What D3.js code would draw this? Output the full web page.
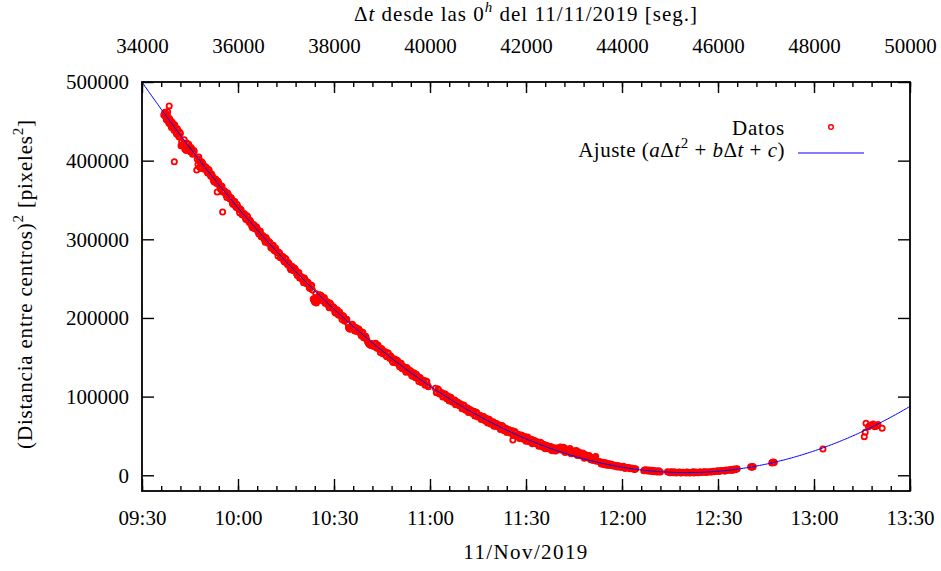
<!DOCTYPE html>
<html><head><meta charset="utf-8">
<script src="https://cdn.jsdelivr.net/npm/d3@7"></script>
<style>
body{margin:0;background:#fff}
text{font-family:"Liberation Serif","Times New Roman",serif;fill:#000}
</style>
</head><body>
<svg id="c" width="941" height="571"></svg>
<script>
// ---- data: time in minutes after 09:30 (11/Nov/2019) and squared distance [pixeles^2]
const minutos = [
  // 09:36 - 09:46
  6.8,7.2,7.6,8.0,8.4,8.8,9.2,9.6,10.0,10.4,
  10.8,11.2,11.6,12.0,12.2,12.4,12.6,12.8,13.2,13.4,
  13.6,13.8,14.0,14.4,14.8,15.2,15.6,16.0,16.3,8.0,
  8.5,10.1,
  7.0,7.4,7.8,8.2,8.6,9.0,9.4,9.8,10.2,10.6,
  11.0,11.4,11.8,13.0,14.2,14.6,15.0,15.4,15.8,16.2,
  // 09:47 - 11:00
  17.1,17.5,17.8,18.0,18.3,18.5,19.0,19.5,20.0,20.5,
  21.0,21.5,22.0,22.5,23.0,23.5,24.0,24.5,25.0,25.5,
  26.0,26.5,27.0,27.5,28.0,28.5,29.0,29.5,30.0,30.5,
  31.0,31.5,32.0,32.5,33.0,33.5,34.0,34.5,35.0,35.5,
  36.0,36.5,37.0,37.5,38.0,38.5,39.0,39.5,40.0,40.5,
  41.0,41.5,42.0,42.5,43.0,43.5,44.0,44.5,45.0,45.5,
  46.0,46.5,47.0,47.5,48.0,48.5,49.0,49.5,50.0,50.5,
  51.0,51.5,52.0,52.5,53.0,53.5,54.0,54.3,54.5,55.0,
  55.5,56.0,56.5,57.0,57.5,58.0,58.5,59.0,59.5,60.0,
  60.5,61.0,61.5,62.0,62.5,63.0,63.5,64.0,64.5,65.0,
  65.5,66.0,66.5,67.0,67.5,68.0,68.5,69.0,69.5,70.0,
  70.5,71.0,71.5,72.0,72.5,73.0,73.5,74.0,74.5,75.0,
  75.5,76.0,76.5,77.0,77.5,78.0,78.5,79.0,79.5,80.0,
  80.5,81.0,81.5,82.0,82.5,83.0,83.5,84.0,84.5,85.0,
  85.5,86.0,86.5,87.0,87.5,88.0,88.5,89.0,89.5,23.5,
  25.2,
  17.25,17.75,18.25,18.75,19.25,19.75,20.25,20.75,21.25,21.75,
  22.25,22.75,23.25,23.75,24.25,24.75,25.25,25.75,26.25,26.75,
  27.25,27.75,28.25,28.75,29.25,29.75,30.25,30.75,31.25,31.75,
  32.25,32.75,33.25,33.75,34.25,34.75,35.25,35.75,36.25,36.75,
  37.25,37.75,38.25,38.75,39.25,39.75,40.25,40.75,41.25,41.75,
  42.25,42.75,43.25,43.75,44.25,44.75,45.25,45.75,46.25,46.75,
  47.25,47.75,48.25,48.75,49.25,49.75,50.25,50.75,51.25,51.75,
  52.25,52.75,53.25,53.75,54.25,54.75,55.25,55.75,56.25,56.75,
  57.25,57.75,58.25,58.75,59.25,59.75,60.25,60.75,61.25,61.75,
  62.25,62.75,63.25,63.75,64.25,64.75,65.25,65.75,66.25,66.75,
  67.25,67.75,68.25,68.75,69.25,69.75,70.25,70.75,71.25,71.75,
  72.25,72.75,73.25,73.75,74.25,74.75,75.25,75.75,76.25,76.75,
  77.25,77.75,78.25,78.75,79.25,79.75,80.25,80.75,81.25,81.75,
  82.25,82.75,83.25,83.75,84.25,84.75,85.25,85.75,86.25,86.75,
  87.25,87.75,88.25,88.75,89.25,
  // 11:01 - 12:00
  91.7,92.0,92.5,93.0,93.5,94.0,94.5,95.0,95.5,96.0,
  96.5,97.0,97.5,98.0,98.5,99.0,99.5,100.0,100.5,101.0,
  101.5,102.0,102.5,103.0,103.5,104.0,104.5,105.0,105.5,106.0,
  106.5,107.0,107.5,108.0,108.5,109.0,109.5,110.0,110.5,111.0,
  111.5,112.0,112.5,113.0,113.5,114.0,114.5,115.0,115.5,116.0,
  116.5,117.0,117.5,118.0,118.5,119.0,119.5,120.0,120.5,121.0,
  121.5,122.0,122.5,123.0,123.5,124.0,124.5,125.0,125.5,126.0,
  126.5,127.0,127.5,128.0,128.5,129.0,129.5,130.0,115.9,
  130.5,131.0,131.5,132.0,132.5,133.0,133.5,134.0,134.5,135.0,
  135.5,136.0,136.5,137.0,137.5,138.0,138.5,139.0,139.5,140.0,
  140.5,141.0,141.5,141.8,142.0,
  92.25,92.75,93.25,93.75,94.25,94.75,95.25,95.75,96.25,96.75,
  97.25,97.75,98.25,98.75,99.25,99.75,100.25,100.75,101.25,101.75,
  102.25,102.75,103.25,103.75,104.25,104.75,105.25,105.75,106.25,106.75,
  107.25,107.75,108.25,108.75,109.25,109.75,110.25,110.75,111.25,111.75,
  112.25,112.75,113.25,113.75,114.25,114.75,115.25,115.75,116.25,116.75,
  117.25,117.75,118.25,118.75,119.25,119.75,120.25,120.75,121.25,121.75,
  122.25,122.75,123.25,123.75,124.25,124.75,125.25,125.75,126.25,126.75,
  127.25,127.75,128.25,128.75,129.25,129.75,130.25,130.75,131.25,131.75,
  132.25,132.75,133.25,133.75,134.25,134.75,135.25,135.75,136.25,136.75,
  137.25,137.75,138.25,138.75,139.25,139.75,140.25,140.75,141.25,141.75,
  // 12:03 - 12:36
  143,143.5,144,144.5,145,145.5,146,146.5,147,148,
  148.5,149,150,150.5,151,152,152.5,153,154,154.3,
  156.8,157.5,158,158.5,159,159.5,160,160.5,161,161.5,
  162,164.2,165,165.5,166,166.5,167,168,168.5,169,
  170,170.5,171,172,172.5,173,174,174.5,175,176,
  176.5,177,178,178.5,179,180,180.5,181,182,182.5,
  183,184,184.5,185,185.5,186,
  143.25,143.75,144.25,144.75,145.25,145.75,146.25,146.75,147.5,148.25,
  149.5,150.25,151.5,152.25,153.5,153.75,157.0,157.75,158.25,158.75,
  159.25,159.75,160.25,160.75,161.25,161.75,164.6,165.25,165.75,166.25,
  167.5,168.25,169.5,170.25,171.5,172.25,173.5,174.25,175.5,176.25,
  177.5,178.25,179.5,180.25,181.5,182.25,183.5,184.25,185.25,185.75,
  // 12:40 - 13:21
  190.2,190.5,190.6,190.8,191.0,196.8,197.0,197.2,197.4,197.6,
  212.8,225.7,226.0,226.25,227.0,227.5,228.0,228.5,229.0,229.6,
  230.0,231.3
];
const distancia2 = [
  458000,461500,452000,456000,447500,451800,442000,446500,438500,443000,
  434000,439000,430000,434500,419000,424000,418500,420000,426500,414500,
  417000,413000,422500,413500,418000,411000,414500,409000,411500,462300,
  469600,398700,
  460000,455500,459000,450000,453500,445000,449000,441500,445500,436500,
  440500,432000,436000,422000,417500,421000,413000,416500,408000,413000,
  388000,395000,402000,391500,398500,390000,396500,389000,392000,384400,
  387800,380200,380700,373100,376600,371100,371600,364100,367600,360100,
  360600,353100,356700,351200,351800,344400,348000,340500,341100,333700,
  337300,331900,332600,325200,328900,321500,322200,314800,318500,313200,
  313900,306600,310300,303000,303700,296400,300200,294900,295700,288500,
  292300,285100,285900,278700,282500,277300,278200,271000,274800,267700,
  268600,261400,265300,260200,261100,254000,257900,250800,251800,244700,
  248700,243600,244600,237600,241600,224000,220000,231000,219000,224500,
  229600,228700,221700,225800,218800,219900,213000,217100,212200,213300,
  206400,210500,203600,204800,197900,202100,197200,198400,188000,185500,
  188000,190200,183400,187700,182900,184100,177400,181700,174900,176200,
  169500,166500,165000,166000,163700,168000,161400,162700,156100,160500,
  155800,157200,150600,155000,148400,149800,143300,147700,143100,144600,
  138000,142500,135900,137400,130900,135400,130900,132500,126000,130500,
  124100,125600,119200,123800,119300,120900,114500,119100,112700,360200,
  334800,
  402200,404600,398000,398400,390800,392200,386700,389100,382500,383000,
  375400,376800,371300,373800,367300,367800,360300,361800,356300,358900,
  352400,353000,345600,347200,341700,344300,337900,338500,331100,332700,
  327400,330000,323700,324300,317000,318600,313300,316000,309700,310400,
  303100,304800,299500,302300,296000,296800,289600,291400,286200,289000,
  282800,283600,276400,278200,273100,275900,269700,270600,263500,265300,
  260200,263100,257000,257900,250800,252800,247700,250700,244600,245600,
  238600,240600,235600,222000,226000,221500,227600,229000,224700,225700,
  218800,220800,215900,219000,213100,214200,207300,209400,204500,207700,
  201800,203000,196100,198300,193500,186500,189000,192100,185300,187500,
  182800,186000,180200,181500,174800,177000,172300,168000,166000,167500,
  164500,166800,162200,165500,159900,161300,154600,157000,152400,155800,
  150200,151600,145000,147500,142900,146300,140800,142200,135700,138200,
  133600,137100,131600,133200,126700,129200,124800,128300,122900,124500,
  118000,120600,116200,119800,114400,
  110700,104900,109600,103300,104900,99600,103300,99000,100700,94500,
  99200,93000,94700,89500,93200,89000,90800,84600,89400,83200,
  85000,79800,83600,79500,81300,75200,80100,74000,75900,70800,
  74700,70600,72500,66400,71300,65300,67200,62200,66200,62200,
  64200,58200,63200,57200,59200,54300,58300,54400,56400,50500,
  55600,49700,51800,46900,51000,47100,49300,43400,48500,42600,
  44800,40000,44200,40400,42600,36800,42000,36200,38400,33700,
  37900,34200,36400,31700,35000,31300,34600,33900,44900,
  35200,32500,34800,30200,33500,29900,32300,27700,31000,28400,
  30900,25300,29700,26100,27600,23000,26500,22900,24400,20900,
  22300,18800,21300,24000,17900,
  105200,108000,103600,104800,100500,103200,97400,100100,95900,97100,
  92900,95600,89900,92600,88400,89700,85500,88300,82600,85400,
  81200,82600,78400,81300,75700,78600,74500,75900,71800,74700,
  69100,72000,67900,69300,65300,68200,62700,65700,61700,63200,
  59200,62200,56700,59800,55800,57400,53400,56500,51000,54100,
  50200,51800,47900,51000,45700,48800,45000,46600,42700,45900,
  40600,43800,40000,41700,37900,41100,35800,39100,35300,37100,
  33300,36600,31300,34600,30900,32700,32500,35800,32200,35500,
  28900,33200,30600,34000,27400,30700,28100,31600,25000,28400,
  24800,28300,21700,25200,22700,25200,19600,22100,19600,23100,
  17400,14400,16500,13500,15600,12700,14800,12400,13500,12700,
  10400,12000,10300,11500,8600,10000,8200,9400,7300,8200,
  5900,7100,5400,6700,5000,6300,4600,5900,4300,5600,
  4000,4600,3300,4500,3200,4200,3000,4000,3000,3900,
  2900,3800,3000,3900,3000,4000,3300,4300,3500,4500,
  3800,4600,4100,5100,4400,5600,5000,6000,5500,6600,
  6000,7400,6800,7900,7300,8400,
  16500,15000,14000,15800,13200,14500,12800,13900,11600,12300,
  10200,11000,9900,9100,8500,7600,6800,6300,6200,5400,
  5800,5000,5400,4600,5100,4500,3700,4200,3400,4000,
  3900,3300,3600,4200,3300,4400,3200,4000,4400,3600,
  4000,4800,5300,4700,6100,5300,6900,6200,7000,8000,
  10900,10200,10600,11300,10800,15500,16600,15800,16900,16200,
  33400,49100,54700,66100,61800,63500,64000,65200,61800,62700,
  64500,59800
];
// fit a*Δt^2 + b*Δt + c (Δt in seconds since 0h, clock time)
const ajusteCoef = [0.004772, -423.7536, 9410730];
const ejeInferior = ["09:30","10:00","10:30","11:00","11:30","12:00","12:30","13:00","13:30"];
const ejeSuperior = [34000,36000,38000,40000,42000,44000,46000,48000,50000];
const ejeY = [0,100000,200000,300000,400000,500000];
const rangoY = [-20000, 500000];

if (minutos.length !== distancia2.length) throw new Error("length mismatch " + minutos.length + " " + distancia2.length);

const svg = d3.select("#c");
const L = 142, R = 910, T = 82, B = 491;
const base = new Date(2019, 10, 11, 0, 0, 0);
const parseHM = s => { const [h, m] = s.split(":").map(Number); return new Date(base.getTime() + (h*3600 + m*60)*1000); };
const fromSec = s => new Date(base.getTime() + s*1000);
const t0 = parseHM(ejeInferior[0]), t1 = parseHM(ejeInferior[ejeInferior.length-1]);

const x = d3.scaleTime().domain([t0, t1]).range([L, R]);
const x2 = d3.scaleLinear().domain([ejeSuperior[0], ejeSuperior[ejeSuperior.length-1]]).range([L, R]);
const y = d3.scaleLinear().domain(rangoY).range([B, T]);

svg.append("defs").append("clipPath").attr("id","clip")
  .append("rect").attr("x",L).attr("y",T).attr("width",R-L).attr("height",B-T);

const minorBottom = d3.timeMinute.every(6).range(t0, d3.timeMinute.offset(t1,1));
const minorTop = d3.range(ejeSuperior[0], ejeSuperior[ejeSuperior.length-1]+1, 400);

const FS = 21;
function styleAxis(g){ g.select(".domain").remove(); g.selectAll("line").attr("stroke","#000").attr("stroke-width",1.4); g.selectAll("text").style("font-size",FS+"px").attr("font-family",null); }

svg.append("g").attr("transform",`translate(0,${B})`)
  .call(d3.axisBottom(x).tickValues(minorBottom).tickSizeInner(-5).tickSizeOuter(0).tickFormat(""))
  .call(styleAxis);
svg.append("g").attr("transform",`translate(0,${B})`)
  .call(d3.axisBottom(x).tickValues(ejeInferior.map(parseHM)).tickSizeInner(-12).tickSizeOuter(0).tickPadding(19).tickFormat(d3.timeFormat("%H:%M")))
  .call(styleAxis);
svg.append("g").attr("transform",`translate(0,${T})`)
  .call(d3.axisTop(x2).tickValues(minorTop).tickSizeInner(-5).tickSizeOuter(0).tickFormat(""))
  .call(styleAxis);
svg.append("g").attr("transform",`translate(0,${T})`)
  .call(d3.axisTop(x2).tickValues(ejeSuperior).tickSizeInner(-11).tickSizeOuter(0).tickPadding(29).tickFormat(d3.format("d")))
  .call(styleAxis);
svg.append("g").attr("transform",`translate(${L},0)`)
  .call(d3.axisLeft(y).tickValues(ejeY).tickSizeInner(-12).tickSizeOuter(0).tickPadding(13).tickFormat(d3.format("d")))
  .call(styleAxis);
svg.append("g").attr("transform",`translate(${R},0)`)
  .call(d3.axisRight(y).tickValues(ejeY).tickSizeInner(-12).tickSizeOuter(0).tickFormat(""))
  .call(styleAxis);

// data
const plot = svg.append("g").attr("clip-path","url(#clip)");
plot.selectAll("circle").data(minutos.map((m,i)=>({t: d3.timeSecond.offset(t0, Math.round(m*60)), v: distancia2[i]})))
  .join("circle")
  .attr("cx", d => x(d.t)).attr("cy", d => y(d.v)).attr("r", 2.6)
  .attr("fill","none").attr("stroke","#ff0000").attr("stroke-width",1.8);

// fit curve
const [a, b, c] = ajusteCoef;
const s0 = (t0 - base)/1000, s1 = (t1 - base)/1000;
const curva = d3.range(s0, s1 + 1, 30).map(s => [fromSec(s), a*s*s + b*s + c]);
plot.append("path").datum(curva)
  .attr("d", d3.line().x(d => x(d[0])).y(d => y(d[1])))
  .attr("fill","none").attr("stroke","#0000ff").attr("stroke-width",1);

// frame
svg.append("rect").attr("x",L).attr("y",T).attr("width",R-L).attr("height",B-T)
  .attr("fill","none").attr("stroke","#000").attr("stroke-width",1.8);

// labels
const sup = (sel, txt, italic) => { const t = sel.append("tspan").attr("dy",-9).style("font-size","15px").text(txt); if (italic) t.attr("font-style","italic"); return t; };
const titulo = svg.append("text").attr("x",(L+R)/2).attr("y",21).attr("text-anchor","middle").style("font-size",FS+"px").style("letter-spacing","1px");
titulo.append("tspan").text("Δ");
titulo.append("tspan").attr("font-style","italic").text("t");
titulo.append("tspan").text(" desde las 0");
sup(titulo, "h", true);
titulo.append("tspan").attr("dy",9).text(" del 11/11/2019 [seg.]");

svg.append("text").attr("x",(L+R)/2).attr("y",559).attr("text-anchor","middle").style("font-size",FS+"px").style("letter-spacing","1.4px").text("11/Nov/2019");

const yl = svg.append("text").attr("transform","rotate(-90)").attr("x",-284).attr("y",32).attr("text-anchor","middle").style("font-size",FS+"px").style("letter-spacing","0.8px");
yl.append("tspan").text("(Distancia entre centros)");
sup(yl, "2");
yl.append("tspan").attr("dy",9).text(" [pixeles");
sup(yl, "2");
yl.append("tspan").attr("dy",9).text("]");

// legend
svg.append("text").attr("x",785).attr("y",135).attr("text-anchor","end").style("font-size",FS+"px").style("letter-spacing","0.8px").text("Datos");
svg.append("circle").attr("cx",831).attr("cy",127).attr("r",2.3).attr("fill","none").attr("stroke","#ff0000").attr("stroke-width",1.5);
const lg = svg.append("text").attr("x",785).attr("y",157).attr("text-anchor","end").style("font-size",FS+"px").style("letter-spacing","0.5px");
lg.append("tspan").text("Ajuste (");
lg.append("tspan").attr("font-style","italic").text("a");
lg.append("tspan").text("Δ");
lg.append("tspan").attr("font-style","italic").text("t");
sup(lg, "2");
lg.append("tspan").attr("dy",9).text(" + ");
lg.append("tspan").attr("font-style","italic").text("b");
lg.append("tspan").text("Δ");
lg.append("tspan").attr("font-style","italic").text("t");
lg.append("tspan").text(" + ");
lg.append("tspan").attr("font-style","italic").text("c");
lg.append("tspan").text(")");
svg.append("line").attr("x1",798).attr("x2",864).attr("y1",153).attr("y2",153).attr("stroke","#0000ff").attr("stroke-width",1);
</script>
</body></html>
